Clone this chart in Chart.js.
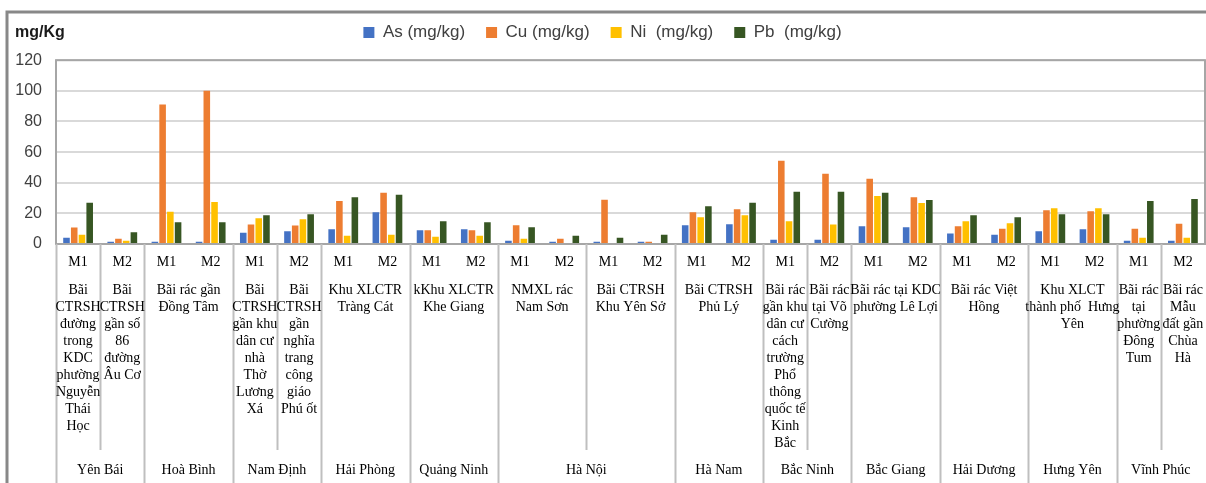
<!DOCTYPE html>
<html>
<head>
<meta charset="utf-8">
<script src="https://cdn.jsdelivr.net/npm/chart.js@4.4.1/dist/chart.umd.min.js"></script>
<style>
  html, body { margin: 0; padding: 0; background: #fff; }
  #wrap { width: 1206px; height: 483px; position: relative; }
</style>
</head>
<body>
<div id="wrap"><canvas id="grafico"></canvas></div>
<script>
// Mẫu (M1/M2) theo từng cột
const mauLabels = ['M1','M2','M1','M2','M1','M2','M1','M2','M1','M2','M1','M2','M1',
                   'M2','M1','M2','M1','M2','M1','M2','M1','M2','M1','M2','M1','M2'];

const asValues = [4.1, 1.5, 1.5, 1.5, 7.4, 8.3, 9.6, 20.8, 9.0, 9.6, 2.2, 1.5, 1.5,
                  1.5, 12.2, 12.9, 2.8, 2.8, 11.6, 10.9, 6.8, 6.1, 8.3, 9.6, 2.2, 2.2];
const cuValues = [10.7, 3.5, 91.1, 100, 12.7, 12.0, 28.0, 33.4, 9.0, 9.0, 12.2, 3.5, 28.9,
                  1.5, 20.8, 22.7, 54.4, 45.9, 42.6, 30.6, 11.6, 10.0, 22.1, 21.4, 10.0, 13.3];
const niValues = [6.1, 2.2, 21.0, 27.5, 16.8, 16.2, 5.4, 6.1, 4.8, 5.4, 3.5, 0, 0,
                  0, 17.5, 18.8, 14.9, 12.7, 31.3, 26.7, 14.9, 13.6, 23.4, 23.4, 4.1, 4.1];
const pbValues = [26.9, 7.6, 14.2, 14.2, 18.8, 19.5, 30.6, 32.1, 14.9, 14.2, 10.9, 5.4, 4.1,
                  6.1, 24.7, 26.9, 34.1, 34.1, 33.4, 28.7, 18.8, 17.5, 19.5, 19.5, 28.0, 29.3];

// Tên bãi rác (mỗi phần tử là các dòng chữ) và số cột mà tên đó chiếm
const tenBai = [
  ['Bãi', 'CTRSH', 'đường', 'trong', 'KDC', 'phường', 'Nguyễn', 'Thái', 'Học'],
  ['Bãi', 'CTRSH', 'gần số', '86', 'đường', 'Âu Cơ'],
  ['Bãi rác gần', 'Đồng Tâm'],
  ['Bãi', 'CTRSH', 'gần khu', 'dân cư', 'nhà', 'Thờ', 'Lương', 'Xá'],
  ['Bãi', 'CTRSH', 'gần', 'nghĩa', 'trang', 'công', 'giáo', 'Phú ốt'],
  ['Khu XLCTR', 'Tràng Cát'],
  ['kKhu XLCTR', 'Khe Giang'],
  ['NMXL rác', 'Nam Sơn'],
  ['Bãi CTRSH', 'Khu Yên Sở'],
  ['Bãi CTRSH', 'Phủ Lý'],
  ['Bãi rác', 'gần khu', 'dân cư', 'cách', 'trường', 'Phổ', 'thông', 'quốc tế', 'Kinh', 'Bắc'],
  ['Bãi rác', 'tại Võ', 'Cường'],
  ['Bãi rác tại KDC', 'phường Lê Lợi'],
  ['Bãi rác Việt', 'Hồng'],
  ['Khu XLCT', 'thành phố  Hưng', 'Yên'],
  ['Bãi rác', 'tại', 'phường', 'Đông', 'Tum'],
  ['Bãi rác', 'Mẫu', 'đất gần', 'Chùa', 'Hà']
];
const soCotBai = [1, 1, 2, 1, 1, 2, 2, 2, 2, 2, 1, 1, 2, 2, 2, 1, 1];

const tinh = ['Yên Bái', 'Hoà Bình', 'Nam Định', 'Hải Phòng', 'Quảng Ninh', 'Hà Nội',
              'Hà Nam', 'Bắc Ninh', 'Bắc Giang', 'Hải Dương', 'Hưng Yên', 'Vĩnh Phúc'];
const soCotTinh = [2, 2, 2, 2, 2, 4, 2, 2, 2, 2, 2, 2];

const yTicks = [0, 20, 40, 60, 80, 100, 120];

const FONTE_SERIF = '"Liberation Serif", "DejaVu Serif", serif';
const FONTE_SANS  = '"Liberation Sans", Arial, sans-serif';

const eixoMultinivel = {
  id: 'eixoMultinivel',
  afterDraw(chart) {
    const { ctx: c, chartArea: { left, right, top, bottom }, scales: { x } } = chart;
    const larg = (right - left) / mauLabels.length;
    const borda = i => left + larg * i;
    c.save();

    // khung ngoài
    c.strokeStyle = '#888';
    c.lineWidth = 3;
    c.beginPath();
    c.moveTo(7, 483);
    c.lineTo(7, 12);
    c.lineTo(1206, 12);
    c.stroke();

    // khung vùng vẽ
    c.strokeStyle = '#a6a6a6';
    c.lineWidth = 2;
    c.strokeRect(left, top, right - left, bottom - top);

    // tiêu đề trục
    c.font = 'bold 16px ' + FONTE_SANS;
    c.fillStyle = '#1a1a1a';
    c.textAlign = 'left';
    c.textBaseline = 'middle';
    c.fillText('mg/Kg', 15, 33);

    // nhãn M1/M2
    c.font = '14px ' + FONTE_SERIF;
    c.fillStyle = '#000';
    c.textAlign = 'center';
    mauLabels.forEach((m, i) => c.fillText(m, x.getPixelForValue(i), 262));

    // đường chia
    c.strokeStyle = '#bfbfbf';
    c.lineWidth = 2;
    const bienTinh = new Set([0]);
    let acc = 0;
    soCotTinh.forEach(n => { acc += n; bienTinh.add(acc); });
    acc = 0;
    const bienBai = new Set([0]);
    soCotBai.forEach(n => { acc += n; bienBai.add(acc); });
    for (let i = 0; i < mauLabels.length; i++) {
      const px = Math.round(borda(i)) + 0.5;
      if (bienTinh.has(i)) {
        c.beginPath(); c.moveTo(px, bottom); c.lineTo(px, 483); c.stroke();
      } else if (bienBai.has(i)) {
        c.beginPath(); c.moveTo(px, bottom); c.lineTo(px, 450); c.stroke();
      }
    }

    // tên bãi
    let ini = 0;
    tenBai.forEach((linhas, k) => {
      const cx = (borda(ini) + borda(ini + soCotBai[k])) / 2;
      linhas.forEach((t, j) => c.fillText(t, cx, 290 + j * 17));
      ini += soCotBai[k];
    });

    // tên tỉnh
    ini = 0;
    tinh.forEach((t, k) => {
      const cx = (borda(ini) + borda(ini + soCotTinh[k])) / 2;
      c.fillText(t, cx, 470);
      ini += soCotTinh[k];
    });

    c.restore();
  }
};

new Chart(document.getElementById('grafico').getContext('2d'), {
  type: 'bar',
  data: {
    labels: mauLabels,
    datasets: [
      { label: 'As (mg/kg)',  data: asValues, backgroundColor: '#4472C4' },
      { label: 'Cu (mg/kg)',  data: cuValues, backgroundColor: '#ED7D31' },
      { label: 'Ni  (mg/kg)', data: niValues, backgroundColor: '#FFC000' },
      { label: 'Pb  (mg/kg)', data: pbValues, backgroundColor: '#375623' }
    ]
  },
  options: {
    responsive: true,
    maintainAspectRatio: false,
    animation: false,
    categoryPercentage: 0.7,
    barPercentage: 0.85,
    layout: { padding: { top: 3, right: 1, left: 0, bottom: 0 } },
    plugins: {
      legend: {
        position: 'top',
        labels: {
          font: { size: 17, family: FONTE_SANS },
          color: '#404040',
          boxWidth: 11,
          boxHeight: 11,
          padding: 21
        }
      },
      // faixa vazia entre a legenda e a área do gráfico
      title: {
        display: true,
        text: '',
        weight: 500,
        font: { size: 1 },
        padding: { top: 8, bottom: 0 }
      },
      tooltip: { enabled: false }
    },
    scales: {
      x: {
        ticks: { display: false },
        grid: { display: false },
        border: { display: false },
        afterFit(scale) { scale.height = 239; }
      },
      y: {
        min: 0,
        max: 120,
        afterBuildTicks(scale) { scale.ticks = yTicks.map(v => ({ value: v })); },
        ticks: { color: '#404040', font: { size: 16, family: FONTE_SANS }, padding: 14 },
        grid: { color: '#d9d9d9', lineWidth: 2, drawTicks: false },
        border: { display: false },
        afterFit(scale) { scale.width = 56; }
      }
    }
  },
  plugins: [eixoMultinivel]
});
</script>
</body>
</html>
